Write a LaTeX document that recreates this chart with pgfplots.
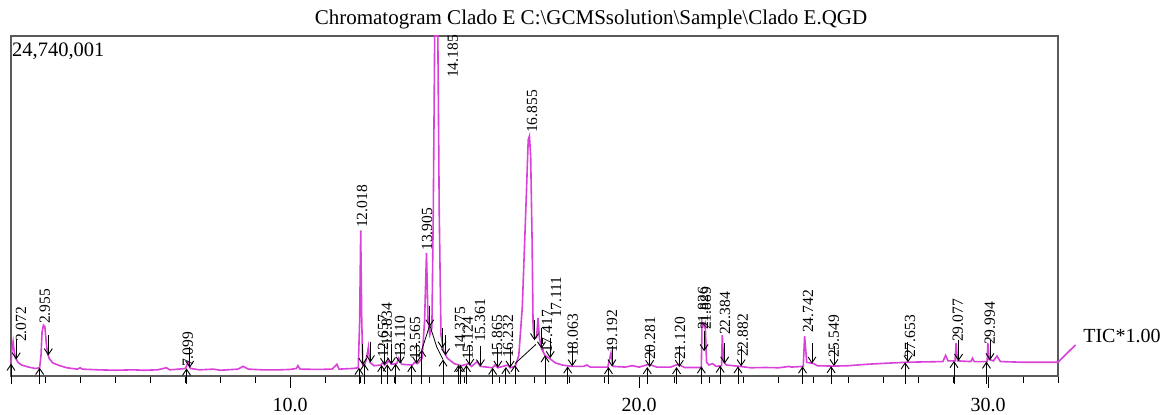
\documentclass[border=0pt]{standalone}
\usepackage{pgfplots}
\pgfplotsset{compat=1.18}
\usepackage{pgfplotstable}
\usepackage{fontspec}
\setmainfont{Liberation Serif}
\usetikzlibrary{arrows.meta}
\definecolor{sig}{RGB}{218,64,218}
\definecolor{frame}{RGB}{90,90,90}

\pgfplotstableread{
x y
2.00 0.9
2.03 2.0
2.06 2.5
2.09 1.8
2.13 1.3
2.20 1.0
2.30 0.8
2.50 0.65
2.70 0.55
2.82 0.6
2.86 1.5
2.89 3.2
2.93 3.7
2.97 3.6
3.01 2.4
3.05 1.6
3.10 1.25
3.20 0.95
3.40 0.75
3.60 0.6
3.90 0.5
3.98 0.6
4.05 0.5
4.50 0.45
5.00 0.42
5.50 0.45
5.80 0.42
6.20 0.45
6.45 0.6
6.55 0.45
6.80 0.5
7.00 0.55
7.07 1.0
7.14 0.55
7.40 0.45
7.80 0.5
8.00 0.42
8.50 0.5
8.65 0.7
8.80 0.5
9.20 0.45
9.70 0.45
10.00 0.48
10.18 0.55
10.22 0.75
10.28 0.5
10.80 0.48
11.20 0.5
11.34 0.85
11.40 0.5
11.80 0.55
11.95 0.6
11.99 4.0
12.02 10.6
12.05 4.0
12.08 0.8
12.15 0.9
12.20 1.5
12.24 2.1
12.28 1.0
12.40 0.75
12.60 0.8
12.66 1.0
12.70 0.8
12.83 1.1
12.90 0.85
13.05 0.9
13.11 1.3
13.20 0.85
13.50 0.8
13.56 1.0
13.65 0.9
13.78 1.3
13.85 4.0
13.905 8.95
13.95 4.0
14.00 3.0
14.06 3.5
14.10 12.0
14.14 24.74
14.23 24.74
14.27 12.0
14.32 3.0
14.40 1.8
14.50 1.3
14.70 0.9
14.90 0.75
15.12 0.9
15.20 0.7
15.36 1.05
15.45 0.7
15.80 0.6
15.87 0.8
15.95 0.6
16.23 0.8
16.30 0.6
16.45 0.7
16.55 1.5
16.65 5.0
16.75 12.0
16.82 17.2
16.855 17.46
16.89 16.0
16.93 10.0
16.96 3.5
17.00 2.8
17.06 2.8
17.10 4.2
17.14 2.8
17.20 2.0
17.30 1.5
17.42 1.3
17.60 0.95
17.80 0.8
18.06 0.7
18.40 0.7
18.50 0.8
18.60 0.65
19.10 0.65
19.19 1.67
19.25 0.7
19.60 0.65
19.80 0.75
20.00 0.65
20.28 0.85
20.50 0.65
20.90 0.65
21.12 0.85
21.30 0.62
21.78 0.62
21.80 3.9
21.86 3.6
21.89 3.8
21.93 1.0
22.00 0.8
22.10 0.9
22.20 0.7
22.36 0.75
22.38 2.98
22.42 1.0
22.50 0.8
22.88 0.7
23.20 0.6
23.60 0.62
24.00 0.6
24.30 0.7
24.35 0.65
24.70 0.7
24.74 2.9
24.80 1.0
25.00 0.9
25.10 0.75
25.55 0.72
26.00 0.75
26.50 0.85
27.00 0.92
27.65 1.0
28.00 1.02
28.70 1.05
28.78 1.5
28.85 1.1
29.05 1.1
29.08 2.4
29.12 1.1
29.50 1.05
29.55 1.3
29.60 1.05
29.97 1.05
29.99 2.4
30.03 1.2
30.15 1.1
30.25 1.45
30.35 1.05
31.00 1.0
31.50 1.0
32.00 1.0
32.50 2.26
}\signal

\pgfplotstableread{
x y lab
2.29 2.47 2.072
2.97 3.78 2.955
7.07 0.65 7.099
12.06 10.77 12.018
12.66 1.31 12.657
12.77 2.18 12.834
13.15 1.31 13.110
13.58 1.16 13.565
13.92 9.10 13.905
14.66 21.68 14.185
14.87 1.89 14.375
15.09 1.16 15.124
15.44 2.47 15.361
15.93 1.31 15.865
16.24 1.31 16.232
16.93 17.68 16.855
17.36 1.67 17.417
17.62 4.22 17.111
18.10 1.38 18.063
19.22 1.67 19.192
20.31 1.16 20.281
21.17 1.16 21.120
21.83 3.35 21.826
21.91 3.35 21.889
22.46 2.98 22.384
22.97 1.38 22.882
24.84 3.13 24.742
25.58 1.31 25.549
27.76 1.31 27.653
29.13 2.47 29.077
30.05 2.26 29.994
}\labels

\pgfplotstableread{
x y v
2.00 -0.55 1.45
2.82 -0.55 1.15
7.03 -0.55 1.10
11.97 -0.55 1.15
12.12 -0.55 1.45
12.62 -0.55 1.35
12.78 -0.55 1.40
13.02 -0.55 1.45
13.48 -0.55 1.35
13.77 -0.55 2.45
14.38 -0.55 1.75
14.82 -0.55 1.35
14.88 -0.55 1.35
15.05 -0.55 1.35
15.80 -0.55 1.15
16.18 -0.55 1.20
16.44 -0.55 1.35
17.30 -0.55 2.05
17.95 -0.55 1.25
19.12 -0.55 1.20
20.23 -0.55 1.20
21.07 -0.55 1.20
21.78 -0.55 1.25
22.32 -0.55 1.30
22.83 -0.55 1.25
24.68 -0.55 1.25
25.50 -0.55 1.27
27.62 -0.55 1.55
29.02 -0.55 1.65
29.95 -0.55 1.60
}\uparrows

\pgfplotstableread{
x y v
2.15 2.7 -1.5
3.07 3.0 -1.5
7.12 2.1 -1.5
12.08 2.3 -1.5
12.30 2.5 -1.5
12.70 2.3 -1.5
12.90 2.35 -1.5
13.15 2.4 -1.5
13.62 2.4 -1.5
14.00 5.1 -1.5
14.35 3.5 -1.5
14.45 3.0 -1.5
15.15 2.25 -1.5
15.45 2.2 -1.5
15.95 2.1 -1.5
16.30 2.1 -1.5
17.00 4.1 -1.5
17.20 3.5 -1.5
17.45 2.8 -1.5
18.08 2.2 -1.5
19.22 2.2 -1.5
20.30 2.15 -1.5
21.15 2.15 -1.5
21.86 3.3 -1.5
22.45 2.4 -1.5
22.92 2.2 -1.5
24.95 2.4 -1.5
25.58 2.22 -1.5
27.70 2.5 -1.5
29.15 2.6 -1.5
30.05 2.65 -1.5
}\downarrows

\begin{document}
\begin{tikzpicture}
\begin{axis}[
  scale only axis,
  width=1047bp, height=340bp,
  xmin=2, xmax=32, ymin=0, ymax=24.74,
  clip=false,
  axis line style={frame, line width=1.2bp},
  xtick={10,20,30},
  minor xtick={2,3,...,32},
  xtick pos=bottom,
  ytick=\empty,
  tick align=outside,
  major tick length=12bp,
  minor tick length=7bp,
  every tick/.style={black, line width=1bp},
  xticklabel style={yshift=-7bp, /pgf/number format/.cd, fixed, fixed zerofill, precision=1, assume math mode=true},
  tick label style={font=\fontsize{20bp}{24bp}\selectfont},
  title={Chromatogram Clado E C:\textbackslash GCMSsolution\textbackslash Sample\textbackslash Clado E.QGD},
  title style={at={(0.554,1)}, anchor=base, yshift=6bp, inner sep=0pt, font=\fontsize{21bp}{25bp}\selectfont},
]
\addplot[sig, line width=1.6bp] table[x=x, y=y] {\signal};
\addplot[black, line width=0.8bp] coordinates {(13.77,1.9) (14.0,3.7) (14.2,2.1) (14.38,1.2)};
\addplot[black, line width=0.8bp] coordinates {(16.44,0.9) (17.04,2.3)};
\addplot[black, line width=0.9bp, -{Straight Barb[length=6bp,width=8bp]},
  quiver={u=0, v=\thisrow{v}}] table[x=x, y=y] {\uparrows};
\addplot[black, line width=0.9bp, -{Straight Barb[length=6bp,width=8bp]},
  quiver={u=0, v=\thisrow{v}}] table[x=x, y=y] {\downarrows};
\addplot[draw=none, mark=none, nodes near coords, point meta=explicit symbolic,
  nodes near coords style={rotate=90, anchor=west, inner sep=0pt, text=black,
    font=\fontsize{15.5bp}{15.5bp}\selectfont}]
  table[x=x, y=y, meta=lab] {\labels};
\node[anchor=north west, inner sep=0pt, xshift=1bp, yshift=-7bp,
  font=\fontsize{20.5bp}{24bp}\selectfont] at (rel axis cs:0,1) {24,740,001};
\node[anchor=base west, inner sep=0pt, font=\fontsize{20bp}{24bp}\selectfont]
  at (axis cs:32.72,2.47) {TIC*1.00};
\coordinate (bl) at (rel axis cs:0,0);
\coordinate (tr) at (rel axis cs:1,1);
\end{axis}
\pgfresetboundingbox
\path ([xshift=-11bp,yshift=-38bp]bl) rectangle ([xshift=111bp,yshift=36bp]tr);
\end{tikzpicture}
\end{document}
